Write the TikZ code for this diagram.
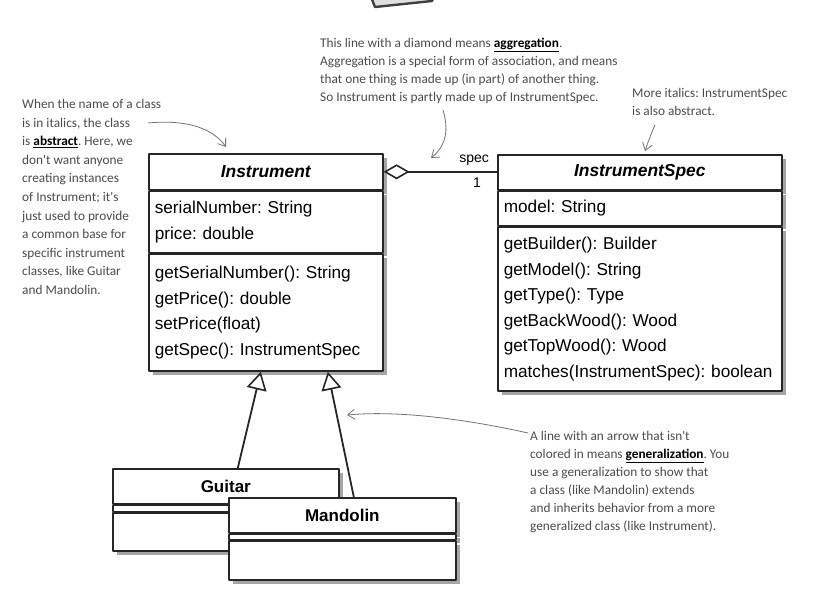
\documentclass[tikz,border=0pt]{standalone}
\usepackage{fontspec}
\setmainfont{Liberation Sans}
\newfontfamily\hand{Carlito}
\usetikzlibrary{positioning,arrows.meta,shadows}
\newcommand\keyword[1]{\textcolor{black}{\textbf{\underline{#1}}}}
\begin{document}
\frenchspacing
\begin{tikzpicture}[x=1pt,y=-1pt,line join=round,
  uml/.style={draw=black!85,fill=white,line width=1.6pt,inner sep=0pt,
    drop shadow={shadow xshift=4pt,shadow yshift=-4pt,fill=black,opacity=.35},
    font=\fontsize{17.2}{25.5}\selectfont},
  head/.style={uml,font=\fontsize{17.4}{20}\selectfont\bfseries\itshape},
  sub/.style={uml,font=\fontsize{17}{20}\selectfont\bfseries},
  body/.style={uml,align=left,inner xsep=6pt},
  note/.style={align=left,inner sep=0pt,anchor=north west,text=black!70,font=\hand\fontsize{13.3}{18}\selectfont},
  hint/.style={draw=black!55,line width=.8pt,-{Straight Barb[length=7pt,width=10pt]}},
  gen/.style={draw=black!85,line width=1.8pt,-{Triangle[open,length=18pt,width=20pt,line width=1.6pt]}}]
\useasboundingbox(0,0)rectangle(832,596);
\draw[line width=2.4pt,draw=black!75,fill=black!12](371,-3)--(375,7)--(432,1)--(434,-3);
% Instrument
\node[head,minimum width=234pt,minimum height=36pt,anchor=north west](insthead)at(148,153){Instrument};
\node[body,below=0pt of insthead,text width=222pt,minimum height=61pt](instattr){serialNumber: String\\price: double};
\node[body,below=0pt of instattr,text width=222pt,minimum height=117pt](instmeth){getSerialNumber(): String\\getPrice(): double\\setPrice(float)\\getSpec(): InstrumentSpec};
% InstrumentSpec
\node[head,minimum width=284pt,minimum height=35pt,anchor=north west](spechead)at(497,154){InstrumentSpec};
\node[body,below=0pt of spechead,text width=272pt,minimum height=34pt](specattr){model: String};
\node[body,below=0pt of specattr,text width=272pt,minimum height=164pt](specmeth){getBuilder(): Builder\\getModel(): String\\getType(): Type\\getBackWood(): Wood\\getTopWood(): Wood\\matches(InstrumentSpec): boolean};
% Guitar and Mandolin
\node[sub,minimum width=226pt,minimum height=35pt,anchor=north west](guitarhead)at(112,468){Guitar};
\node[uml,below=0pt of guitarhead,minimum width=226pt,minimum height=6pt](guitarattr){};
\node[uml,below=0pt of guitarattr,minimum width=226pt,minimum height=38pt](guitarmeth){};
\node[sub,minimum width=227pt,minimum height=35pt,anchor=north west](mandhead)at(228,497){Mandolin};
\node[uml,below=0pt of mandhead,minimum width=227pt,minimum height=5pt](mandattr){};
\node[uml,below=0pt of mandattr,minimum width=227pt,minimum height=39pt](mandmeth){};
\draw[gen]([xshift=12pt]guitarhead.north)--([xshift=-5pt]instmeth.south);
\draw[gen]([xshift=11.5pt]mandhead.north)--([xshift=62pt]instmeth.south);
\draw[draw=black!85,line width=1.6pt,{Diamond[open,length=26pt,width=15pt,line width=1.6pt]}-](insthead.east)--(insthead.east-|spechead.west)
  node[pos=1,above left=2pt and 4pt,font=\fontsize{14}{14}\selectfont]{spec}
  node[pos=1,below left=2pt and 12pt,font=\fontsize{14}{14}\selectfont]{1};
% notes
\node[note,font=\hand\fontsize{13.3}{18.6}\selectfont](absnote)at(22,99){When the name of a class\\is in italics, the class\\is \keyword{abstract}. Here, we\\don't want anyone\\creating instances\\of Instrument; it's\\just used to provide\\a common base for\\specific instrument\\classes, like Guitar\\and Mandolin.};
\node[note](aggnote)at(320,38){This line with a diamond means \keyword{aggregation}.\\Aggregation is a special form of association, and means\\that one thing is made up (in part) of another thing.\\So Instrument is partly made up of InstrumentSpec.};
\node[note](specnote)at(632,88){More italics: InstrumentSpec\\is also abstract.};
\node[note](gennote)at(530,431){A line with an arrow that isn't\\colored in means \keyword{generalization}. You\\use a generalization to show that\\a class (like Mandolin) extends\\and inherits behavior from a more\\generalized class (like Instrument).};
\coordinate(absfrom)at(148,123);\coordinate(absto)at(226,147);
\coordinate(aggfrom)at(443,110);\coordinate(aggto)at(431,158);
\coordinate(specfrom)at(655,125);\coordinate(specto)at(645,151);
\coordinate(genfrom)at(528,433);\coordinate(gento)at(347,415);
\draw[hint](absfrom)..controls(190,119)and(214,130)..(absto);
\draw[hint](aggfrom)..controls(449,130)and(446,146)..(aggto);
\draw[hint](specfrom)..controls(651,134)and(648,142)..(specto);
\draw[hint](genfrom)..controls(470,420)and(400,410)..(gento);
\end{tikzpicture}
\end{document}
